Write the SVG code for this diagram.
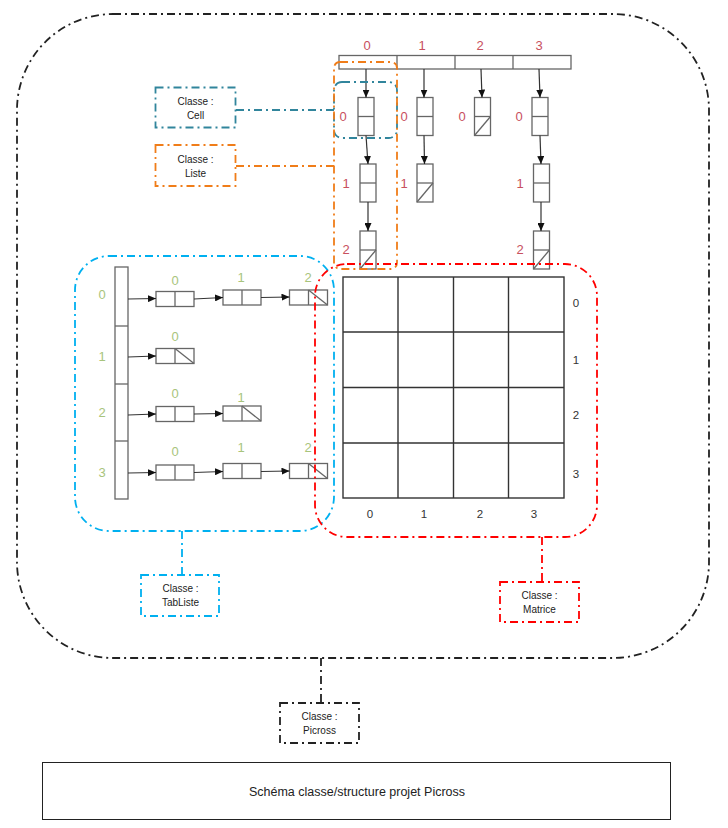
<svg xmlns="http://www.w3.org/2000/svg" width="728" height="828" viewBox="0 0 728 828">
<style>
.cell{fill:#fff;stroke:#666;stroke-width:1.3}
.grid{fill:none;stroke:#333;stroke-width:1.4}
.arr{stroke:#333;stroke-width:1.2;fill:none;marker-end:url(#ah)}
.dd{fill:none;stroke-dasharray:8 4 2 4;stroke-width:1.8}
.blk{stroke:#222}
.red{stroke:#ff0000}
.blu{stroke:#00b0f0}
.tea{stroke:#31859c}
.ora{stroke:#f07d19}
.lab{font-family:"Liberation Sans",Arial,sans-serif;font-size:10px;fill:#222;text-anchor:middle}
.rn{font-family:"Liberation Sans",Arial,sans-serif;font-size:13px;fill:#c8505e;text-anchor:middle}
.gn{font-family:"Liberation Sans",Arial,sans-serif;font-size:13px;fill:#a8c47c;text-anchor:middle}
.mn{font-family:"Liberation Sans",Arial,sans-serif;font-size:11.5px;fill:#333;text-anchor:middle}
</style>
<defs>
<marker id="ah" markerWidth="8" markerHeight="7" refX="8" refY="3.5" orient="auto" markerUnits="userSpaceOnUse">
<path d="M0,0 L8,3.5 L0,7 z" fill="#111"/>
</marker>
</defs>
<rect width="728" height="828" fill="#fff"/>

<g id="picross-frame">
<rect class="dd blk" x="17" y="14" width="692" height="644" rx="96" ry="96" stroke-width="1.5"/>
</g>

<g id="column-array">
<rect class="cell" x="339" y="55.5" width="232" height="13.5"/>
<line class="cell" x1="397" y1="55.5" x2="397" y2="69"/>
<line class="cell" x1="455" y1="55.5" x2="455" y2="69"/>
<line class="cell" x1="513" y1="55.5" x2="513" y2="69"/>
<text class="rn" x="367" y="49.5">0</text>
<text class="rn" x="422" y="49.5">1</text>
<text class="rn" x="480" y="49.5">2</text>
<text class="rn" x="539" y="49.5">3</text>
</g>

<g id="column-lists">
<rect class="cell" x="358" y="97.5" width="16" height="38"/><line class="cell" x1="358" y1="116.5" x2="374" y2="116.5"/>
<rect class="cell" x="360" y="164" width="16" height="38"/><line class="cell" x1="360" y1="183" x2="376" y2="183"/>
<rect class="cell" x="360" y="231" width="16" height="38"/><line class="cell" x1="360" y1="250" x2="376" y2="250"/><line class="cell" x1="360" y1="269" x2="376" y2="250"/>
<rect class="cell" x="417" y="97.5" width="16" height="38"/><line class="cell" x1="417" y1="116.5" x2="433" y2="116.5"/>
<rect class="cell" x="417" y="164" width="16" height="38"/><line class="cell" x1="417" y1="183" x2="433" y2="183"/><line class="cell" x1="417" y1="202" x2="433" y2="183"/>
<rect class="cell" x="474.5" y="97.5" width="16" height="38"/><line class="cell" x1="474.5" y1="116.5" x2="490.5" y2="116.5"/><line class="cell" x1="474.5" y1="135.5" x2="490.5" y2="116.5"/>
<rect class="cell" x="532" y="97.5" width="16" height="38"/><line class="cell" x1="532" y1="116.5" x2="548" y2="116.5"/>
<rect class="cell" x="533.5" y="164" width="16" height="38"/><line class="cell" x1="533.5" y1="183" x2="549.5" y2="183"/>
<rect class="cell" x="533.5" y="231" width="16" height="38"/><line class="cell" x1="533.5" y1="250" x2="549.5" y2="250"/><line class="cell" x1="533.5" y1="269" x2="549.5" y2="250"/>
<text class="rn" x="343" y="120.5">0</text>
<text class="rn" x="404" y="120.5">0</text>
<text class="rn" x="462" y="120.5">0</text>
<text class="rn" x="519" y="120.5">0</text>
<text class="rn" x="346" y="187.5">1</text>
<text class="rn" x="404" y="187.5">1</text>
<text class="rn" x="520" y="187.5">1</text>
<text class="rn" x="346" y="253.5">2</text>
<text class="rn" x="520" y="253.5">2</text>
</g>

<g id="row-array">
<rect class="cell" x="115" y="267" width="13" height="232"/>
<line class="cell" x1="115" y1="326" x2="128" y2="326"/>
<line class="cell" x1="115" y1="384" x2="128" y2="384"/>
<line class="cell" x1="115" y1="441" x2="128" y2="441"/>
<text class="gn" x="102" y="298.5">0</text>
<text class="gn" x="102" y="360.5">1</text>
<text class="gn" x="102" y="416.5">2</text>
<text class="gn" x="102" y="476.5">3</text>
</g>

<g id="row-lists">
<rect class="cell" x="156" y="291.5" width="38" height="15"/><line class="cell" x1="175" y1="291.5" x2="175" y2="306.5"/>
<rect class="cell" x="223" y="290" width="38" height="15"/><line class="cell" x1="242" y1="290" x2="242" y2="305"/>
<rect class="cell" x="289.5" y="290" width="38" height="15"/><line class="cell" x1="308.5" y1="290" x2="308.5" y2="305"/><line class="cell" x1="308.5" y1="290" x2="327.5" y2="305"/>
<rect class="cell" x="156" y="348.5" width="38" height="15"/><line class="cell" x1="175" y1="348.5" x2="175" y2="363.5"/><line class="cell" x1="175" y1="348.5" x2="194" y2="363.5"/>
<rect class="cell" x="156" y="406.5" width="38" height="15"/><line class="cell" x1="175" y1="406.5" x2="175" y2="421.5"/>
<rect class="cell" x="223" y="406" width="38" height="15"/><line class="cell" x1="242" y1="406" x2="242" y2="421"/><line class="cell" x1="242" y1="406" x2="261" y2="421"/>
<rect class="cell" x="156" y="465" width="38" height="15"/><line class="cell" x1="175" y1="465" x2="175" y2="480"/>
<rect class="cell" x="223" y="463.5" width="38" height="15"/><line class="cell" x1="242" y1="463.5" x2="242" y2="478.5"/>
<rect class="cell" x="289.5" y="463.5" width="38" height="15"/><line class="cell" x1="308.5" y1="463.5" x2="308.5" y2="478.5"/><line class="cell" x1="308.5" y1="463.5" x2="327.5" y2="478.5"/>
<text class="gn" x="175" y="284.5">0</text>
<text class="gn" x="241" y="281.5">1</text>
<text class="gn" x="308" y="281.5">2</text>
<text class="gn" x="175" y="340.5">0</text>
<text class="gn" x="175" y="397.5">0</text>
<text class="gn" x="241" y="401.5">1</text>
<text class="gn" x="175" y="455.5">0</text>
<text class="gn" x="241" y="451.5">1</text>
<text class="gn" x="308" y="451.5">2</text>
</g>

<g id="matrix">
<rect class="grid" x="343" y="277" width="221" height="221"/>
<line class="grid" x1="398" y1="277" x2="398" y2="498"/>
<line class="grid" x1="453.5" y1="277" x2="453.5" y2="498"/>
<line class="grid" x1="508.5" y1="277" x2="508.5" y2="498"/>
<line class="grid" x1="343" y1="332" x2="564" y2="332"/>
<line class="grid" x1="343" y1="387.5" x2="564" y2="387.5"/>
<line class="grid" x1="343" y1="443" x2="564" y2="443"/>
<text class="mn" x="576" y="307">0</text>
<text class="mn" x="576" y="364">1</text>
<text class="mn" x="576" y="419">2</text>
<text class="mn" x="576" y="478">3</text>
<text class="mn" x="370" y="517.5">0</text>
<text class="mn" x="424" y="517.5">1</text>
<text class="mn" x="480" y="517.5">2</text>
<text class="mn" x="534" y="517.5">3</text>
</g>

<g id="connectors">
<line class="arr" x1="366" y1="69" x2="366" y2="97.5"/>
<line class="arr" x1="366" y1="135.5" x2="368" y2="164"/>
<line class="arr" x1="368" y1="202" x2="368" y2="231"/>
<line class="arr" x1="424" y1="69" x2="424" y2="97.5"/>
<line class="arr" x1="424" y1="135.5" x2="424.5" y2="164"/>
<line class="arr" x1="481" y1="69" x2="482" y2="97.5"/>
<line class="arr" x1="539" y1="69" x2="540" y2="97.5"/>
<line class="arr" x1="540" y1="135.5" x2="541" y2="164"/>
<line class="arr" x1="541" y1="202" x2="541" y2="231"/>
<line class="arr" x1="128" y1="299" x2="156" y2="298.5"/>
<line class="arr" x1="194" y1="299" x2="223" y2="297.5"/>
<line class="arr" x1="261" y1="297.5" x2="289.5" y2="297"/>
<line class="arr" x1="128" y1="357" x2="156" y2="356"/>
<line class="arr" x1="128" y1="415" x2="156" y2="414"/>
<line class="arr" x1="194" y1="414" x2="223" y2="413.5"/>
<line class="arr" x1="128" y1="473" x2="156" y2="472.5"/>
<line class="arr" x1="194" y1="472.5" x2="223" y2="471.5"/>
<line class="arr" x1="261" y1="471.5" x2="289.5" y2="471"/>
<line class="dd tea" x1="236" y1="110" x2="334" y2="110"/>
<line class="dd ora" x1="236" y1="166" x2="334" y2="166"/>
<line class="dd blu" x1="182" y1="531" x2="182" y2="575"/>
<line class="dd red" x1="542" y1="537" x2="542" y2="582"/>
<line class="dd blk" x1="321" y1="658" x2="321" y2="703"/>
</g>

<g id="cell-scope">
<rect class="dd tea" x="334" y="82" width="63" height="56" rx="8"/>
</g>
<g id="liste-scope">
<rect class="dd ora" x="334" y="62" width="63" height="207" rx="6"/>
</g>
<g id="tabliste-scope">
<rect class="dd blu" x="75" y="256" width="259" height="275" rx="34"/>
</g>
<g id="matrice-scope">
<rect class="dd red" x="315" y="264" width="282" height="273" rx="32"/>
</g>

<g id="class-cell">
<rect class="dd tea" x="155.5" y="87.5" width="80" height="40"/>
<text class="lab" x="195.5" y="104.5">Classe :</text>
<text class="lab" x="195.5" y="118.5">Cell</text>
</g>
<g id="class-liste">
<rect class="dd ora" x="155.5" y="145" width="80" height="41"/>
<text class="lab" x="195.5" y="162.5">Classe :</text>
<text class="lab" x="195.5" y="176.5">Liste</text>
</g>
<g id="class-tabliste">
<rect class="dd blu" x="141" y="575" width="78" height="41"/>
<text class="lab" x="180.5" y="592">Classe :</text>
<text class="lab" x="180.5" y="606">TabListe</text>
</g>
<g id="class-matrice">
<rect class="dd red" x="500" y="582" width="79" height="40"/>
<text class="lab" x="539.5" y="599">Classe :</text>
<text class="lab" x="539.5" y="613">Matrice</text>
</g>
<g id="class-picross">
<rect class="dd blk" x="280" y="703" width="79" height="40"/>
<text class="lab" x="319.5" y="719.5">Classe :</text>
<text class="lab" x="319.5" y="733.5">Picross</text>
</g>

<g id="caption">
<rect x="42.5" y="762.5" width="628" height="57" fill="#fff" stroke="#222" stroke-width="1"/>
<text class="lab" x="357" y="796" style="font-size:12.5px">Schéma classe/structure projet Picross</text>
</g>
</svg>
